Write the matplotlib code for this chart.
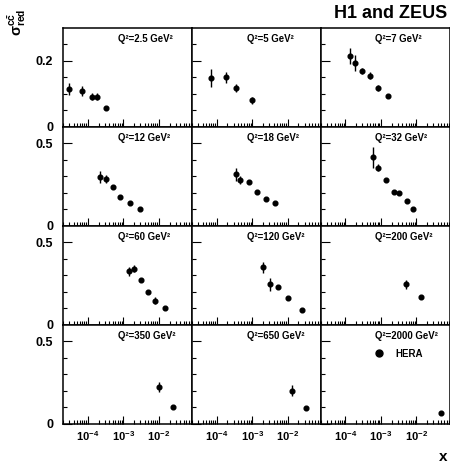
import math
import matplotlib
matplotlib.use("Agg")
import matplotlib.pyplot as plt
from matplotlib.lines import Line2D
from matplotlib.ticker import FixedLocator, LogLocator, FuncFormatter, NullFormatter

plt.rcParams["font.family"] = ["Liberation Sans", "DejaVu Sans"]
plt.rcParams["font.weight"] = "bold"
plt.rcParams["mathtext.fontset"] = "custom"
plt.rcParams["mathtext.rm"] = "Liberation Sans"
plt.rcParams["mathtext.it"] = "Liberation Sans:italic"
plt.rcParams["mathtext.bf"] = "Liberation Sans:bold"

# Reduced charm cross sections per Q^2 bin (x, sigma, total uncertainty)
q2_labels = ["2.5", "5", "7", "12", "18", "32", "60", "120", "200", "350", "650", "2000"]

x_2p5 = [3e-5, 7e-5, 1.3e-4, 1.8e-4, 3.2e-4]
s_2p5 = [0.114, 0.108, 0.091, 0.091, 0.056]
e_2p5 = [0.017, 0.014, 0.010, 0.010, 0.005]

x_5 = [7e-5, 1.8e-4, 3.5e-4, 1e-3]
s_5 = [0.147, 0.150, 0.117, 0.080]
e_5 = [0.027, 0.017, 0.011, 0.010]

x_7 = [1.3e-4, 1.8e-4, 3e-4, 5e-4, 8e-4, 1.6e-3]
s_7 = [0.215, 0.193, 0.169, 0.155, 0.117, 0.093]
e_7 = [0.024, 0.024, 0.010, 0.011, 0.009, 0.007]

x_12 = [2.2e-4, 3.2e-4, 5e-4, 8e-4, 1.5e-3, 3e-3]
s_12 = [0.296, 0.282, 0.233, 0.174, 0.140, 0.103]
e_12 = [0.035, 0.022, 0.012, 0.010, 0.010, 0.008]

x_18 = [3.5e-4, 4.5e-4, 8e-4, 1.35e-3, 2.5e-3, 4.5e-3]
s_18 = [0.312, 0.277, 0.265, 0.203, 0.159, 0.136]
e_18 = [0.039, 0.022, 0.012, 0.010, 0.010, 0.010]

x_32 = [6e-4, 8e-4, 1.4e-3, 2.4e-3, 3.2e-3, 5.5e-3, 8e-3]
s_32 = [0.414, 0.351, 0.276, 0.205, 0.195, 0.148, 0.103]
e_32 = [0.063, 0.022, 0.012, 0.010, 0.012, 0.010, 0.008]

x_60 = [1.4e-3, 2e-3, 3.2e-3, 5e-3, 8e-3, 1.5e-2]
s_60 = [0.322, 0.339, 0.272, 0.199, 0.145, 0.101]
e_60 = [0.027, 0.020, 0.012, 0.010, 0.020, 0.008]

x_120 = [2e-3, 3.2e-3, 5.5e-3, 1e-2, 2.5e-2]
s_120 = [0.346, 0.244, 0.227, 0.158, 0.087]
e_120 = [0.031, 0.040, 0.012, 0.010, 0.008]

x_200 = [5e-3, 1.3e-2]
s_200 = [0.245, 0.165]
e_200 = [0.028, 0.010]

x_350 = [1e-2, 2.5e-2]
s_350 = [0.221, 0.101]
e_350 = [0.030, 0.008]

x_650 = [1.3e-2, 3.2e-2]
s_650 = [0.200, 0.093]
e_650 = [0.031, 0.010]

x_2000 = [5e-2]
s_2000 = [0.061]
e_2000 = [0.012]

bins = [
    (x_2p5, s_2p5, e_2p5), (x_5, s_5, e_5), (x_7, s_7, e_7),
    (x_12, s_12, e_12), (x_18, s_18, e_18), (x_32, s_32, e_32),
    (x_60, s_60, e_60), (x_120, s_120, e_120), (x_200, s_200, e_200),
    (x_350, s_350, e_350), (x_650, s_650, e_650), (x_2000, s_2000, e_2000),
]

W, H = 450, 463
fig = plt.figure(figsize=(W / 100, H / 100), dpi=100)
gs = fig.add_gridspec(4, 3, left=63 / W, right=449.5 / W,
                      top=1 - 27.7 / H, bottom=1 - 423.5 / H,
                      hspace=0, wspace=0)


def decade_label(v, pos):
    if v <= 0:
        return ""
    e = int(round(math.log10(v)))
    return r"$\mathbf{10^{%d}}$" % e


for i, (xs, ys, es) in enumerate(bins):
    r, c = divmod(i, 3)
    ax = fig.add_subplot(gs[r, c])
    ax.errorbar(xs, ys, yerr=es, fmt="o", color="black", ms=3.4,
                elinewidth=1.0, capsize=0)
    ax.set_xscale("log")
    ax.set_xlim(2.0e-5, 0.085)
    if r == 0:
        ax.set_ylim(0, 0.30)
        ax.yaxis.set_major_locator(FixedLocator([0, 0.2]))
        ax.yaxis.set_minor_locator(FixedLocator([0.05, 0.10, 0.15, 0.25]))
        ylabels = ["0", "0.2"]
    else:
        ax.set_ylim(0, 0.60)
        ax.yaxis.set_major_locator(FixedLocator([0, 0.5]))
        ax.yaxis.set_minor_locator(FixedLocator([0.1, 0.2, 0.3, 0.4]))
        ylabels = ["0", "0.5"]
    ax.xaxis.set_major_locator(LogLocator(base=10, numticks=10))
    ax.xaxis.set_minor_locator(LogLocator(base=10, subs=range(2, 10), numticks=20))
    ax.xaxis.set_minor_formatter(NullFormatter())
    if r == 3:
        ax.xaxis.set_major_formatter(FuncFormatter(decade_label))
    else:
        ax.xaxis.set_major_formatter(NullFormatter())
    if c == 0:
        ax.set_yticklabels(ylabels, fontsize=9, fontweight="bold")
    else:
        ax.set_yticklabels([])
    ax.tick_params(axis="both", which="both", direction="in",
                   top=False, right=False, width=0.8)
    ax.tick_params(axis="y", which="major", length=6.5, pad=7)
    ax.tick_params(axis="y", which="minor", length=3)
    ax.tick_params(axis="x", which="major", length=6, pad=4, labelsize=8)
    ax.tick_params(axis="x", which="minor", length=3)
    for sp in ax.spines.values():
        sp.set_linewidth(1.1)
    ax.text(0.425, 0.885, "Q\u00b2=%s GeV\u00b2" % q2_labels[i],
            transform=ax.transAxes, ha="left", va="center",
            fontsize=6.9, fontweight="bold")
    if i == len(bins) - 1:
        proxy = Line2D([], [], marker="o", ls="none", color="black", ms=5)
        ax.legend([proxy], ["HERA"], loc="center left",
                  bbox_to_anchor=(0.413, 0.706), frameon=False,
                  handlelength=1.0, handletextpad=1.2, borderpad=0,
                  borderaxespad=0, prop={"size": 7, "weight": "bold"})

fig.text(0.995, 1 - 14 / H, "H1 and ZEUS", ha="right", va="center",
         fontsize=13, fontweight="bold")
fig.text(17 / W, 1 - 9 / H, r"$\mathrm{\sigma}^{\mathbf{c\bar{c}}}_{\mathbf{red}}$",
         rotation=90, ha="center", va="top", fontsize=10.5)
fig.text(447 / W, 1 - 457 / H, "x", ha="right", va="center",
         fontsize=11, fontweight="bold")

fig.savefig("out.png", dpi=100)
